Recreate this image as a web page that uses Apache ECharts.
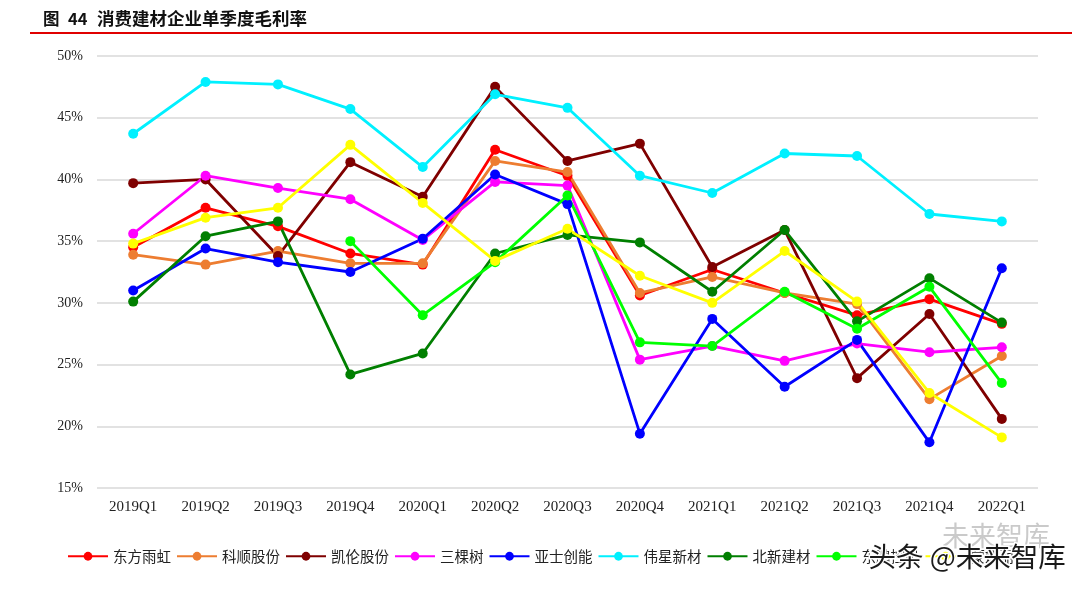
<!DOCTYPE html>
<html>
<head>
<meta charset="utf-8">
<script src="https://cdn.jsdelivr.net/npm/echarts@6/dist/echarts.min.js"></script>
<style>
html,body{margin:0;padding:0;background:#fff;}
#chart{width:1080px;height:591px;}
</style>
</head>
<body>
<div id="chart"></div>
<script>
const categories = ['2019Q1','2019Q2','2019Q3','2019Q4','2020Q1','2020Q2','2020Q3','2020Q4','2021Q1','2021Q2','2021Q3','2021Q4','2022Q1'];
const seriesNames = ['东方雨虹','科顺股份','凯伦股份','三棵树','亚士创能','伟星新材','北新建材','东鹏控股','蒙娜丽莎'];
const seriesColors = ['#FF0000','#ED7D31','#7F0000','#FF00FF','#0000FF','#00F0FF','#007F00','#00FF00','#FFFF00'];
const dfyh = [34.5, 37.7, 36.2, 34.0, 33.1, 42.4, 40.3, 30.6, 32.7, 30.8, 29.0, 30.3, 28.3];
const ksgf = [33.9, 33.1, 34.2, 33.2, 33.2, 41.5, 40.6, 30.8, 32.1, 30.8, 29.9, 22.2, 25.7];
const klgf = [39.7, 40.0, 33.8, 41.4, 38.6, 47.5, 41.5, 42.9, 32.9, 35.9, 23.9, 29.1, 20.6];
const skshu = [35.6, 40.3, 39.3, 38.4, 35.1, 39.8, 39.5, 25.4, 26.5, 25.3, 26.7, 26.0, 26.4];
const yscn = [31.0, 34.4, 33.3, 32.5, 35.2, 40.4, 38.0, 19.4, 28.7, 23.2, 27.0, 18.7, 32.8];
const wxxc = [43.7, 47.9, 47.7, 45.7, 41.0, 46.9, 45.8, 40.3, 38.9, 42.1, 41.9, 37.2, 36.6];
const bxjc = [30.1, 35.4, 36.6, 24.2, 25.9, 34.0, 35.5, 34.9, 30.9, 35.9, 28.5, 32.0, 28.4];
const dpkg = [null, null, null, 35.0, 29.0, 33.3, 38.7, 26.8, 26.5, 30.9, 27.9, 31.3, 23.5];
const mnls = [34.8, 36.9, 37.7, 42.8, 38.1, 33.4, 36.0, 32.2, 30.0, 34.2, 30.1, 22.7, 19.1];
const seriesData = [dfyh, ksgf, klgf, skshu, yscn, wxxc, bxjc, dpkg, mnls];
const yTicks = [15, 20, 25, 30, 35, 40, 45, 50];

const chart = echarts.init(document.getElementById('chart'), null, {renderer: 'canvas'});
const option = {
  backgroundColor: '#ffffff',
  animation: false,
  grid: {left: 97, right: 42, top: 56, bottom: 103, containLabel: false},
  xAxis: {
    type: 'category',
    data: categories,
    boundaryGap: true,
    axisLine: {show: false},
    axisTick: {show: false},
    axisLabel: {fontFamily: 'Liberation Serif', fontSize: 15, color: '#222', margin: 12}
  },
  yAxis: {
    type: 'value',
    min: yTicks[0],
    max: yTicks[yTicks.length - 1],
    interval: 5,
    axisLine: {show: false},
    axisTick: {show: false},
    splitLine: {lineStyle: {color: '#D9D9D9', width: 1.5}},
    axisLabel: {fontFamily: 'Liberation Serif', fontSize: 14, color: '#222', margin: 14, formatter: v => v + '%'}
  },
  legend: {
    left: 67,
    top: 549,
    padding: 0,
    itemWidth: 40,
    itemHeight: 11,
    itemGap: 5,
    textStyle: {fontFamily: 'Noto Sans CJK SC', fontSize: 14.5, color: '#222'},
    data: seriesNames
  },
  graphic: [
    {type: 'text', left: 43, top: 10, style: {text: '图', font: 'bold 16.5px "Noto Sans CJK SC"', fill: '#111'}},
    {type: 'text', left: 68, top: 10, style: {text: '44', font: 'bold 16.5px "Noto Sans CJK SC"', fill: '#111'}},
    {type: 'text', left: 97, top: 10, style: {text: '消费建材企业单季度毛利率', font: 'bold 17.5px "Noto Sans CJK SC"', fill: '#111'}},
    {type: 'line', shape: {x1: 30, y1: 33, x2: 1072, y2: 33}, style: {stroke: '#E00000', lineWidth: 2}},
    {type: 'text', left: 942, top: 522, z: 100, style: {text: '未来智库', font: '27px "Noto Sans CJK SC"', fill: 'rgba(150,150,150,0.5)'}},
    {type: 'text', left: 867, top: 541, z: 101, style: {text: '头条 @未来智库', font: '27.5px "Noto Sans CJK SC"', fill: '#1a1a1a', stroke: '#ffffff', lineWidth: 3}}
  ],
  series: seriesNames.map((name, i) => ({
    name: name,
    type: 'line',
    data: seriesData[i],
    color: seriesColors[i],
    symbol: 'circle',
    symbolSize: 10,
    showSymbol: true,
    connectNulls: false,
    lineStyle: {width: 2.8, color: seriesColors[i]},
    itemStyle: {color: seriesColors[i]}
  }))
};
chart.setOption(option);
</script>
</body>
</html>
